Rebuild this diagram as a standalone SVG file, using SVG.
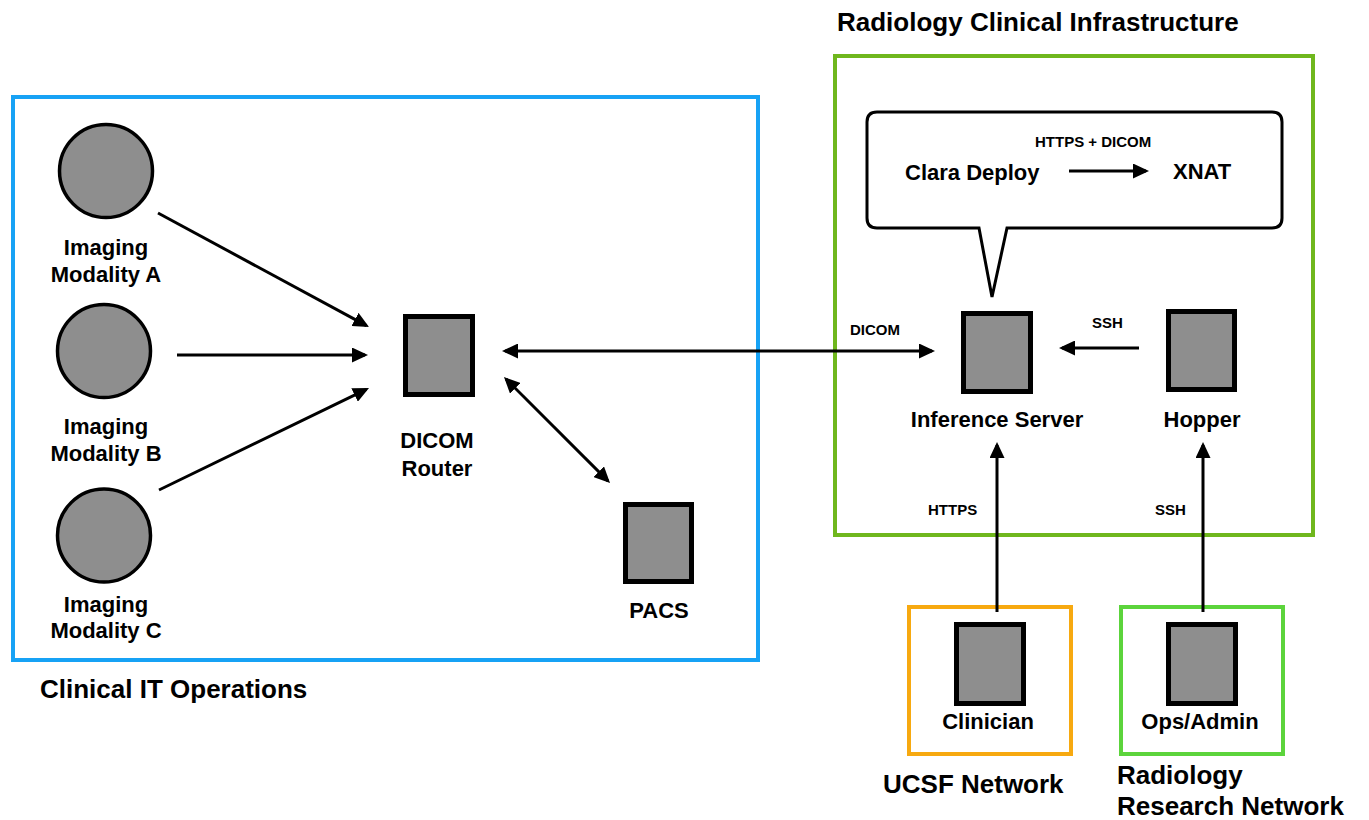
<svg xmlns="http://www.w3.org/2000/svg" width="1369" height="820" viewBox="0 0 1369 820">
<style>
text{font-family:"Liberation Sans",Arial,Helvetica,sans-serif;font-weight:bold;fill:#000}
.lbl{font-size:22px;text-anchor:middle}
.grp{font-size:26px}
.cl{font-size:15px}
.box{fill:#8e8e8e;stroke:#000;stroke-width:5}
.circ{fill:#8e8e8e;stroke:#000;stroke-width:3.5}
.conn{stroke:#000;stroke-width:3;fill:none}
.zone{fill:none;stroke-width:4}
</style>
<defs>
<marker id="ah" markerUnits="userSpaceOnUse" markerWidth="16" markerHeight="15" refX="13" refY="7.5" orient="auto-start-reverse">
<path d="M0,0 L16,7.5 L0,15 Z" fill="#000"/>
</marker>
</defs>
<rect width="1369" height="820" fill="#fff"/>

<g id="clinical-it">
<rect class="zone" x="13" y="97" width="745" height="563" stroke="#17a2f5"/>
<text class="grp" x="40" y="698">Clinical IT Operations</text>
</g>
<g id="radiology-infra">
<rect class="zone" x="835" y="56" width="478" height="479" stroke="#6fb71d"/>
<text class="grp" x="837" y="31">Radiology Clinical Infrastructure</text>
</g>
<g id="ucsf-network">
<rect class="zone" x="909" y="607" width="162" height="147" stroke="#f7a910"/>
<text class="grp" x="883" y="793">UCSF Network</text>
</g>
<g id="research-network">
<rect class="zone" x="1121" y="607" width="162" height="147" stroke="#5cd43c"/>
<text class="grp" x="1117" y="784">Radiology</text>
<text class="grp" x="1117" y="815">Research Network</text>
</g>

<g id="modality-a">
<circle class="circ" cx="106" cy="171" r="46.5"/>
<text class="lbl" x="106" y="255">Imaging</text>
<text class="lbl" x="106" y="282">Modality A</text>
</g>
<g id="modality-b">
<circle class="circ" cx="104" cy="351" r="46.5"/>
<text class="lbl" x="106" y="434">Imaging</text>
<text class="lbl" x="106" y="461">Modality B</text>
</g>
<g id="modality-c">
<circle class="circ" cx="104" cy="535.5" r="46.5"/>
<text class="lbl" x="106" y="612">Imaging</text>
<text class="lbl" x="106" y="638">Modality C</text>
</g>
<g id="dicom-router">
<rect class="box" x="405.5" y="316.5" width="67" height="78"/>
<text class="lbl" x="437" y="448">DICOM</text>
<text class="lbl" x="437" y="476">Router</text>
</g>
<g id="pacs">
<rect class="box" x="625.5" y="504.5" width="66" height="77"/>
<text class="lbl" x="659" y="618">PACS</text>
</g>
<g id="inference-server">
<rect class="box" x="963.5" y="313.5" width="67" height="78"/>
<text class="lbl" x="997" y="427">Inference Server</text>
</g>
<g id="hopper">
<rect class="box" x="1168.5" y="311.5" width="66" height="78"/>
<text class="lbl" x="1202" y="427">Hopper</text>
</g>
<g id="clinician">
<rect class="box" x="956.5" y="624.5" width="67" height="79"/>
<text class="lbl" x="988" y="729">Clinician</text>
</g>
<g id="ops-admin">
<rect class="box" x="1168.5" y="624.5" width="67" height="79"/>
<text class="lbl" x="1200" y="729">Ops/Admin</text>
</g>
<g id="callout">
<path d="M877,112 H1272 Q1282,112 1282,122 V218 Q1282,228 1272,228 H1007 L992,297 L979,228 H877 Q867,228 867,218 V122 Q867,112 877,112 Z" fill="#fff" stroke="#000" stroke-width="3"/>
<text x="905" y="180" font-size="22">Clara Deploy</text>
<text x="1173" y="179" font-size="22">XNAT</text>
<text class="cl" x="1035" y="147">HTTPS + DICOM</text>
</g>

<g id="connectors">
<line class="conn" x1="158" y1="213" x2="366.4" y2="325.6" marker-end="url(#ah)"/>
<line class="conn" x1="177" y1="355" x2="365" y2="355" marker-end="url(#ah)"/>
<line class="conn" x1="159" y1="490" x2="366.3" y2="389.3" marker-end="url(#ah)"/>
<line class="conn" x1="505" y1="351" x2="932" y2="351" marker-start="url(#ah)" marker-end="url(#ah)"/>
<line class="conn" x1="506.1" y1="379.1" x2="607.9" y2="480.9" marker-start="url(#ah)" marker-end="url(#ah)"/>
<line class="conn" x1="1139" y1="348" x2="1062" y2="348" marker-end="url(#ah)"/>
<line class="conn" x1="997" y1="612" x2="997" y2="445" marker-end="url(#ah)"/>
<line class="conn" x1="1203" y1="612" x2="1203" y2="445" marker-end="url(#ah)"/>
<line class="conn" x1="1069" y1="171" x2="1146" y2="171" marker-end="url(#ah)"/>
<text class="cl" x="850" y="335">DICOM</text>
<text class="cl" x="1092" y="328">SSH</text>
<text class="cl" x="928" y="515">HTTPS</text>
<text class="cl" x="1155" y="515">SSH</text>
</g>
</svg>
